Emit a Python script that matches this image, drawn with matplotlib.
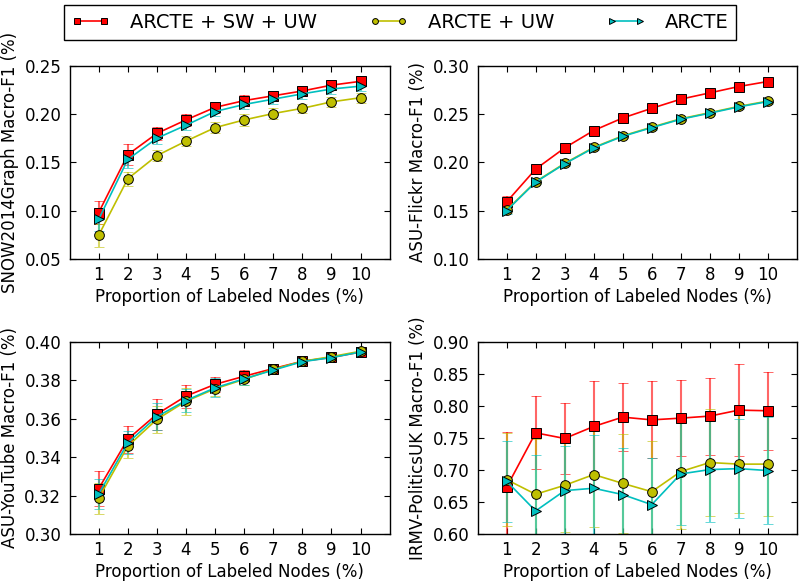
import matplotlib
matplotlib.use("Agg")
import matplotlib.pyplot as plt
import numpy as np

x = np.arange(1, 11)

# SNOW2014Graph
snow_sw_uw = [0.098, 0.158, 0.180, 0.194, 0.207, 0.214, 0.219, 0.224, 0.230, 0.234]
snow_sw_uw_err = [0.012, 0.011, 0.007, 0.006, 0.006, 0.006, 0.005, 0.005, 0.005, 0.005]
snow_uw = [0.0745, 0.133, 0.157, 0.172, 0.186, 0.194, 0.2006, 0.206, 0.2127, 0.217]
snow_uw_err = [0.012, 0.007, 0.006, 0.005, 0.006, 0.006, 0.006, 0.005, 0.005, 0.005]
snow_base = [0.091, 0.153, 0.175, 0.1885, 0.2027, 0.210, 0.2155, 0.221, 0.226, 0.229]
snow_base_err = [0.012, 0.009, 0.006, 0.005, 0.005, 0.005, 0.005, 0.005, 0.005, 0.005]

# ASU-Flickr
flickr_sw_uw = [0.159, 0.193, 0.215, 0.233, 0.246, 0.256, 0.2655, 0.272, 0.2786, 0.2838]
flickr_sw_uw_err = [0.006, 0.002, 0.002, 0.002, 0.002, 0.002, 0.002, 0.002, 0.002, 0.002]
flickr_uw = [0.1505, 0.180, 0.199, 0.2155, 0.2275, 0.2365, 0.2452, 0.2515, 0.258, 0.2635]
flickr_uw_err = [0.003, 0.002, 0.002, 0.002, 0.002, 0.002, 0.002, 0.002, 0.002, 0.002]
flickr_base = [0.150, 0.1795, 0.1985, 0.215, 0.227, 0.236, 0.2447, 0.251, 0.2575, 0.263]
flickr_base_err = [0.004, 0.002, 0.002, 0.002, 0.002, 0.002, 0.002, 0.002, 0.002, 0.002]

# ASU-YouTube
youtube_sw_uw = [0.3236, 0.3493, 0.3623, 0.3717, 0.3778, 0.382, 0.386, 0.3898, 0.3918, 0.3946]
youtube_sw_uw_err = [0.009, 0.007, 0.008, 0.006, 0.004, 0.003, 0.002, 0.001, 0.001, 0.001]
youtube_uw = [0.3186, 0.3457, 0.3596, 0.369, 0.3755, 0.3804, 0.3856, 0.3898, 0.3922, 0.395]
youtube_uw_err = [0.008, 0.006, 0.007, 0.007, 0.004, 0.003, 0.002, 0.001, 0.002, 0.001]
youtube_base = [0.3208, 0.3474, 0.361, 0.3694, 0.376, 0.3807, 0.3852, 0.3896, 0.3917, 0.3946]
youtube_base_err = [0.008, 0.006, 0.007, 0.006, 0.005, 0.003, 0.002, 0.001, 0.001, 0.001]

# IRMV-PoliticsUK
politics_sw_uw = [0.673, 0.7578, 0.749, 0.7677, 0.7823, 0.778, 0.7807, 0.7839, 0.7932, 0.7922]
politics_sw_uw_err = [0.086, 0.057, 0.055, 0.071, 0.053, 0.06, 0.059, 0.06, 0.0714, 0.061]
politics_uw = [0.6849, 0.662, 0.676, 0.6927, 0.679, 0.666, 0.6974, 0.7115, 0.709, 0.709]
politics_uw_err = [0.073, 0.086, 0.073, 0.082, 0.077, 0.079, 0.09, 0.083, 0.076, 0.081]
politics_base = [0.6823, 0.636, 0.6677, 0.6714, 0.6615, 0.6458, 0.6937, 0.7005, 0.702, 0.699]
politics_base_err = [0.063, 0.087, 0.07, 0.083, 0.072, 0.072, 0.08, 0.082, 0.077, 0.083]

labels = ["ARCTE + SW + UW", "ARCTE + UW", "ARCTE"]
colors = ["#ff0000", "#bfbf00", "#00bfbf"]
markers = ["s", "o", ">"]

panels = [
    ("SNOW2014Graph Macro-F1 (%)", (0.05, 0.25), np.arange(0.05, 0.2501, 0.05),
     [(snow_sw_uw, snow_sw_uw_err), (snow_uw, snow_uw_err), (snow_base, snow_base_err)]),
    ("ASU-Flickr Macro-F1 (%)", (0.10, 0.30), np.arange(0.10, 0.3001, 0.05),
     [(flickr_sw_uw, flickr_sw_uw_err), (flickr_uw, flickr_uw_err), (flickr_base, flickr_base_err)]),
    ("ASU-YouTube Macro-F1 (%)", (0.30, 0.40), np.arange(0.30, 0.4001, 0.02),
     [(youtube_sw_uw, youtube_sw_uw_err), (youtube_uw, youtube_uw_err), (youtube_base, youtube_base_err)]),
    ("IRMV-PoliticsUK Macro-F1 (%)", (0.60, 0.90), np.arange(0.60, 0.9001, 0.05),
     [(politics_sw_uw, politics_sw_uw_err), (politics_uw, politics_uw_err), (politics_base, politics_base_err)]),
]

positions = [
    [0.087, 0.556, 0.400, 0.331],
    [0.597, 0.556, 0.399, 0.331],
    [0.087, 0.084, 0.400, 0.330],
    [0.597, 0.084, 0.399, 0.330],
]

plt.rcParams['font.family'] = ['DejaVu Sans']
fig = plt.figure(figsize=(8, 5.83), dpi=100)

handles = []
for i, (ylabel, ylim, yticks, series) in enumerate(panels):
    ax = fig.add_axes(positions[i])
    for j, (vals, errs) in enumerate(series):
        cont = ax.errorbar(x, vals, yerr=errs, color=colors[j], marker=markers[j],
                           markersize=7, markeredgecolor="black", markeredgewidth=0.7,
                           linewidth=1.2, ecolor=colors[j], elinewidth=1.5, capsize=3.5,
                           capthick=1.2)
        for part in cont[1] + cont[2]:
            part.set_alpha(0.6)
        if i == 0:
            handles.append(cont[0])
    ax.set_xlim(0, 11)
    ax.set_ylim(*ylim)
    ax.set_xticks(x)
    ax.set_yticks(yticks)
    ax.set_yticklabels(["%.2f" % t for t in yticks])
    ax.tick_params(direction="in", top=True, right=True, labelsize=12, length=4)
    ax.tick_params(axis="x", pad=5)
    ax.tick_params(axis="y", pad=6)
    ax.set_xlabel("Proportion of Labeled Nodes (%)", fontsize=12, labelpad=3)
    ax.set_ylabel(ylabel, fontsize=12, labelpad=4)
    for s in ax.spines.values():
        s.set_linewidth(1.0)

fig.legend(handles, labels, loc="upper center", bbox_to_anchor=(0.5, 1.008), ncol=3,
           fontsize=14, numpoints=2, handlelength=2.0, markerscale=0.6,
           columnspacing=2.7, handletextpad=1.0,
           fancybox=False, edgecolor="black", framealpha=1, borderpad=0.4)

fig.savefig("out.png", dpi=100, facecolor="white")
